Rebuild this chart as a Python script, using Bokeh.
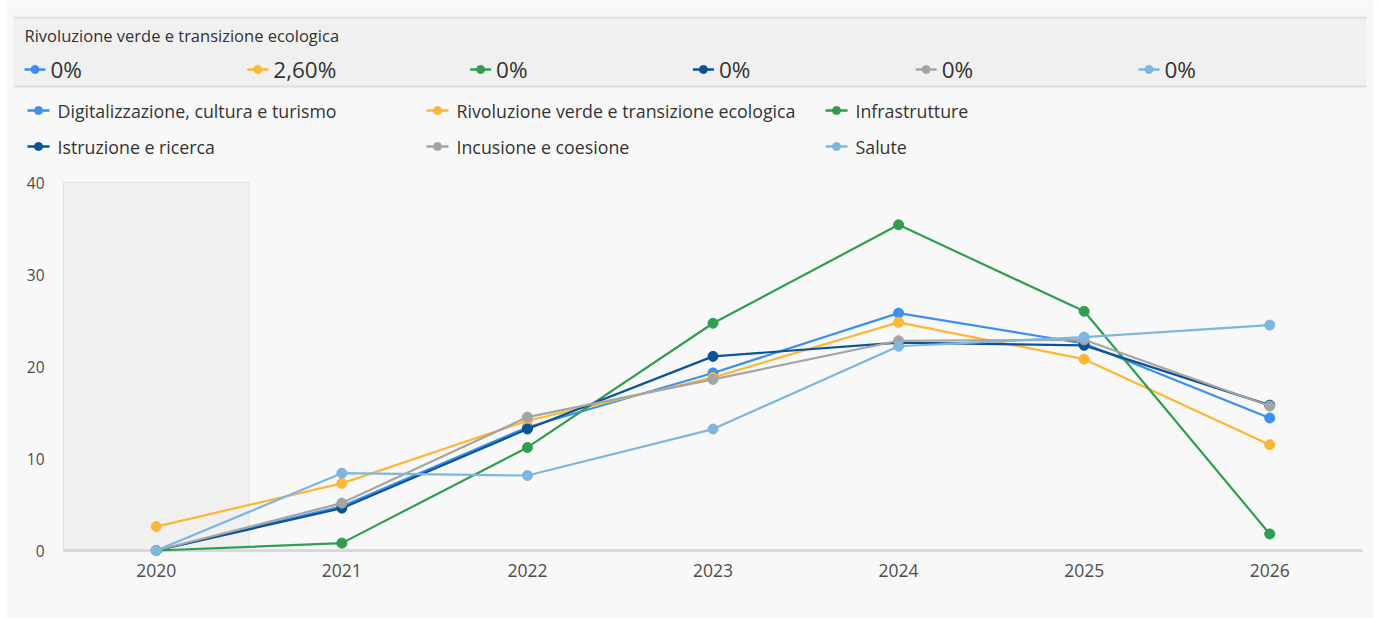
from bokeh.plotting import figure
from bokeh.models import Range1d, FixedTicker
from bokeh.embed import file_html
from bokeh.resources import INLINE
from bokeh.core.properties import value

# ---------------- data ----------------
years = [2020, 2021, 2022, 2023, 2024, 2025, 2026]
series_names = [
    "Digitalizzazione, cultura e turismo",
    "Rivoluzione verde e transizione ecologica",
    "Infrastrutture",
    "Istruzione e ricerca",
    "Incusione e coesione",
    "Salute",
]
digitalizzazione = [0, 4.8, 13.4, 19.3, 25.8, 22.5, 14.4]
rivoluzione = [2.6, 7.3, 14.1, 18.8, 24.8, 20.8, 11.5]
infrastrutture = [0, 0.8, 11.2, 24.7, 35.4, 26.0, 1.8]
istruzione = [0, 4.6, 13.2, 21.1, 22.6, 22.3, 15.8]
inclusione = [0, 5.15, 14.5, 18.6, 22.8, 22.9, 15.7]
salute = [0, 8.4, 8.15, 13.2, 22.2, 23.2, 24.5]
header_title = "Rivoluzione verde e transizione ecologica"
header_values = ["0%", "2,60%", "0%", "0%", "0%", "0%"]
y_ticks = [0, 10, 20, 30, 40]
highlight_year = 2020

series_values = [digitalizzazione, rivoluzione, infrastrutture, istruzione, inclusione, salute]
colors = ["#3a90ec", "#fbb735", "#2f9e4f", "#0b5394", "#a5a5a5", "#7db7e0"]

FONT = value("Open Sans")
TEXT = "#333333"
BG = "#f8f8f8"

# ---------------- canvas / plot-box geometry (pixels) ----------------
W, H = 1379, 618
BOX_L, BOX_R, BOX_T, BOX_B = 63, 1362, 182, 550
X0, X1 = years[0] - 0.5, years[-1] + 0.5
Y0, Y1 = y_ticks[0], y_ticks[-1]
sx = (BOX_R - BOX_L) / (X1 - X0)
sy = (BOX_B - BOX_T) / (Y1 - Y0)

p = figure(width=W, height=H,
           x_range=Range1d(X0 - BOX_L / sx, X1 + (W - BOX_R) / sx),
           y_range=Range1d(Y0 - (H - BOX_B) / sy, Y1 + BOX_T / sy),
           toolbar_location=None, output_backend="svg", min_border=0)
p.extra_x_ranges = {"px": Range1d(0, W)}
p.extra_y_ranges = {"px": Range1d(H, 0)}
p.background_fill_color = BG
p.border_fill_color = "white"
p.outline_line_color = None
p.grid.visible = False

PX = dict(x_range_name="px", y_range_name="px")

# white page strips outside the panel
p.quad(left=[0, 1373], right=[6, W], top=[0, 0], bottom=[H, H], fill_color="white", line_color=None, **PX)

# ---------------- header band ----------------
p.quad(left=[13], right=[1366], top=[17], bottom=[86], fill_color="#f0f0f0", line_color=None, **PX)
p.segment(x0=[13], x1=[1366], y0=[17], y1=[17], line_color="#dcdcdc", line_width=1.5, **PX)
p.segment(x0=[13], x1=[1366], y0=[86], y1=[86], line_color="#dcdcdc", line_width=2, **PX)
p.text(x=[24], y=[35], text=[header_title], text_font=FONT, text_font_size="16.5px",
       text_baseline="middle", text_color=TEXT, **PX)

hx0 = 24
hstep = 222.8
for i, (lab, c) in enumerate(zip(header_values, colors)):
    x = hx0 + i * hstep
    p.segment(x0=[x], x1=[x + 21], y0=[69], y1=[69], line_color=c, line_width=2.5, **PX)
    p.scatter(x=[x + 10.5], y=[69], size=8, color=c, **PX)
    p.text(x=[x + 26], y=[69], text=[lab], text_font=FONT, text_font_size="22.5px",
           text_baseline="middle", text_color=TEXT, **PX)

# ---------------- legend ----------------
col_x = [27, 426, 825]
row_y = [110, 146]
for i, (name, c) in enumerate(zip(series_names, colors)):
    x = col_x[i % 3]
    y = row_y[i // 3]
    p.segment(x0=[x], x1=[x + 22], y0=[y], y1=[y], line_color=c, line_width=2.5, **PX)
    p.scatter(x=[x + 11], y=[y], size=8, color=c, **PX)
    p.text(x=[x + 30], y=[y], text=[name], text_font=FONT, text_font_size="17.8px",
           text_baseline="middle", text_color=TEXT, **PX)

# ---------------- chart ----------------
p.quad(left=[highlight_year - 0.5], right=[highlight_year + 0.5], bottom=[Y0], top=[Y1],
       fill_color="#f0f0f0", line_color="#e0e0e0", line_width=1)
p.segment(x0=[X0], x1=[X1], y0=[Y0], y1=[Y0], line_color="#d9d9d9", line_width=3)

for vals, c in zip(series_values, colors):
    p.line(years, vals, line_color=c, line_width=2.2)
    p.scatter(years, vals, size=10, color=c)

p.xaxis.fixed_location = Y0
p.xaxis.ticker = FixedTicker(ticks=years)
p.xaxis.axis_line_color = None
p.xaxis.major_tick_line_color = None
p.xaxis.minor_tick_line_color = None
p.xaxis.major_tick_out = 0
p.xaxis.major_tick_in = 0
p.xaxis.major_label_standoff = 13
p.xaxis.major_label_text_font = "Open Sans"
p.xaxis.major_label_text_font_size = "17.5px"
p.xaxis.major_label_text_color = "#4d4d4d"

p.yaxis.fixed_location = X0
p.yaxis.ticker = FixedTicker(ticks=y_ticks)
p.yaxis.axis_line_color = None
p.yaxis.major_tick_line_color = None
p.yaxis.minor_tick_line_color = None
p.yaxis.major_tick_out = 0
p.yaxis.major_tick_in = 0
p.yaxis.major_label_standoff = 19
p.yaxis.major_label_text_font = "Open Sans"
p.yaxis.major_label_text_font_size = "15.5px"
p.yaxis.major_label_text_color = "#4d4d4d"

open("out.html", "w").write(file_html(p, INLINE))
